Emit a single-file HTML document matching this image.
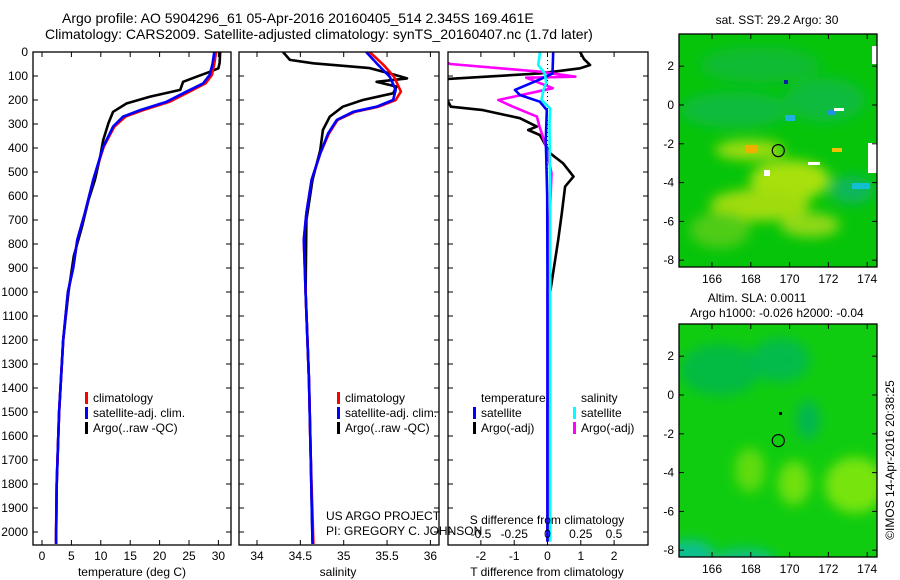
<!DOCTYPE html>
<html><head><meta charset="utf-8">
<style>
html,body{margin:0;padding:0;background:#fff;}
svg{display:block;font-family:"Liberation Sans",sans-serif;}
text{fill:#000;}
</style></head>
<body>
<svg id="fig" width="900" height="580" viewBox="0 0 900 580" xmlns="http://www.w3.org/2000/svg">
<defs>
 <filter id="blur6" x="-50%" y="-50%" width="200%" height="200%"><feGaussianBlur stdDeviation="6"/></filter>
 <clipPath id="c1"><rect x="33" y="52" width="198" height="493"/></clipPath>
 <clipPath id="c2"><rect x="239" y="52" width="200" height="493"/></clipPath>
 <clipPath id="c3"><rect x="448" y="52" width="200" height="493"/></clipPath>
 <clipPath id="cm1"><rect x="679" y="34" width="198" height="233"/></clipPath>
 <clipPath id="cm2"><rect x="679" y="324" width="198" height="233"/></clipPath>
</defs>
<text x="62" y="23" font-size="14">Argo profile: AO 5904296_61 05-Apr-2016 20160405_514 2.345S 169.461E</text>
<text x="45" y="39" font-size="14">Climatology: CARS2009. Satellite-adjusted climatology: synTS_20160407.nc (1.7d later)</text>

<!-- maps -->
<g clip-path="url(#cm1)">
 <rect x="679" y="34" width="198" height="233" fill="#06c40a"/>
 <g filter="url(#blur6)">
  <ellipse cx="760" cy="65" rx="60" ry="18" fill="#10b550" opacity="0.6"/>
  <ellipse cx="735" cy="110" rx="55" ry="18" fill="#0cb560" opacity="0.6"/>
  <ellipse cx="825" cy="100" rx="40" ry="22" fill="#10b560" opacity="0.6"/>
  <ellipse cx="852" cy="190" rx="22" ry="14" fill="#10b080" opacity="0.7"/>
  <ellipse cx="750" cy="150" rx="35" ry="10" fill="#a0dc10"/>
  <ellipse cx="790" cy="180" rx="40" ry="20" fill="#a8e010"/>
  <ellipse cx="760" cy="205" rx="50" ry="16" fill="#a0dc10"/>
  <ellipse cx="810" cy="225" rx="30" ry="12" fill="#90d818"/>
  <ellipse cx="720" cy="230" rx="30" ry="18" fill="#50cc18"/>
 </g>
 <rect x="745" y="145" width="12" height="8" fill="#f0b000"/>
 <rect x="832" y="148" width="10" height="4" fill="#f0c000"/>
 <rect x="785" y="115" width="10" height="6" fill="#20b0e0"/>
 <rect x="827" y="110" width="8" height="5" fill="#2090e0"/>
 <rect x="852" y="183" width="18" height="6" fill="#10c0d0"/>
 <rect x="784" y="80" width="4" height="4" fill="#0020a0"/>
 <rect x="872" y="46" width="5" height="18" fill="#fff"/>
 <rect x="868" y="143" width="9" height="30" fill="#fff"/>
 <rect x="764" y="170" width="6" height="6" fill="#fff"/>
 <rect x="808" y="162" width="12" height="3" fill="#fff"/>
 <rect x="834" y="108" width="10" height="3" fill="#fff"/>
 <circle cx="778.3" cy="150.6" r="6" fill="none" stroke="#000" stroke-width="1.2"/>
</g>
<g clip-path="url(#cm2)">
 <rect x="679" y="324" width="198" height="233" fill="#10cc10"/>
 <g filter="url(#blur6)">
  <ellipse cx="720" cy="370" rx="40" ry="26" fill="#08b550" opacity="0.8"/>
  <ellipse cx="780" cy="360" rx="30" ry="22" fill="#08b858" opacity="0.8"/>
  <ellipse cx="808" cy="420" rx="12" ry="20" fill="#08b060" opacity="0.8"/>
  <ellipse cx="750" cy="470" rx="15" ry="22" fill="#60dc10"/>
  <ellipse cx="794" cy="483" rx="16" ry="22" fill="#70e010"/>
  <ellipse cx="855" cy="485" rx="30" ry="28" fill="#78e408"/>
  <ellipse cx="690" cy="555" rx="25" ry="15" fill="#10c090"/>
  <ellipse cx="745" cy="560" rx="30" ry="12" fill="#10c080"/>
 </g>
 <circle cx="778.3" cy="440.6" r="6" fill="none" stroke="#000" stroke-width="1.2"/>
 <rect x="779" y="412" width="3" height="3" fill="#000"/>
</g>
<text x="777" y="24" font-size="12" text-anchor="middle">sat. SST: 29.2 Argo: 30</text>
<text x="757" y="302" font-size="12" text-anchor="middle">Altim. SLA: 0.0011</text>
<text x="777" y="317" font-size="12" text-anchor="middle">Argo h1000: -0.026 h2000: -0.04</text>
<text transform="translate(894,460) rotate(-90)" font-size="12" text-anchor="middle">©IMOS 14-Apr-2016 20:38:25</text>

<text x="326" y="520" font-size="12">US ARGO PROJECT</text>
<text x="326" y="535" font-size="12">PI: GREGORY C. JOHNSON</text>

<g id="plots"></g>
</svg>
<script>
// ---- data ----
var tClimDepth = [0,50,96,131,165,207,242,269,311,395,533,671,783,900,1000,1200,1500,1800,2000,2050];
var tClimVal   = [29.6,29.3,28.9,27.8,25.1,21.7,17.2,14.2,12.3,10.5,8.7,7.3,6.0,5.3,4.4,3.6,2.9,2.5,2.4,2.4];
var tAdjDepth  = [0,50,96,131,165,207,242,269,311,395,533,671,783,900,1000,1200,1500,1800,2000,2050];
var tAdjVal    = [29.3,29.0,28.5,27.4,24.6,21.2,16.7,13.8,12.1,10.4,8.7,7.3,6.0,5.3,4.4,3.6,2.9,2.5,2.4,2.4];
var tArgoDepth = [0,46,68,82,103,124,158,186,214,249,297,367,436,533,617,728,850,1000,1200,1500,1800,2040];
var tArgoVal   = [30.3,30.2,30.0,28.6,26.3,24.0,23.5,18.4,14.4,12.1,11.3,10.4,9.9,9.0,7.9,6.8,5.4,4.5,3.6,2.9,2.5,2.4];

var sClimDepth = [0,54,103,165,200,228,249,283,339,422,533,671,783,1000,1370,1700,2050];
var sClimVal   = [35.30,35.46,35.58,35.66,35.60,35.40,35.13,34.93,34.83,34.73,34.63,34.57,34.54,34.56,34.60,34.62,34.65];
var sAdjDepth  = [0,47,103,158,200,228,249,283,339,422,533,671,783,1000,1370,1700,2050];
var sAdjVal    = [35.26,35.38,35.53,35.60,35.57,35.38,35.11,34.92,34.82,34.73,34.63,34.57,34.54,34.56,34.60,34.62,34.64];
var sArgoDepth = [0,33,47,67,89,110,124,144,172,200,228,269,325,408,533,700,1000,1370,1700,2040];
var sArgoVal   = [34.30,34.38,34.65,35.30,35.53,35.73,35.38,35.61,35.57,35.22,34.99,34.84,34.76,34.73,34.64,34.57,34.56,34.60,34.62,34.64];

var dTArgoDepth = [0,30,54,68,89,114,150,228,242,276,311,325,346,422,464,519,561,672,783,1000,1500,2040];
var dTArgoVal   = [0.98,1.1,1.28,0.98,-0.23,-3.2,-3.2,-2.9,-1.94,-0.83,-0.32,-0.58,-0.23,0.08,0.47,0.78,0.53,0.43,0.32,0.08,0.0,0.0];
var dSArgoDepth = [0,40,50,82,103,107,151,200,228,269,311,395,505,644,1000,2040];
var dSArgoVal   = [-0.8,-0.78,-0.73,-0.056,0.21,-0.16,0.04,-0.37,-0.26,-0.08,-0.06,-0.01,0.03,0.02,0.0,0.0];
var dTSatDepth  = [0,89,114,158,179,207,242,367,600,1000,2040];
var dTSatVal    = [0.17,0.15,-0.23,-0.98,-0.83,-0.23,-0.02,-0.05,-0.01,0.0,0.0];
var dSSatDepth  = [0,54,89,130,158,200,235,300,600,1000,2040];
var dSSatVal    = [-0.056,-0.07,-0.02,-0.01,-0.03,-0.045,0.02,0.015,0.02,0.02,0.02];

var depthTicks = [0,100,200,300,400,500,600,700,800,900,1000,1100,1200,1300,1400,1500,1600,1700,1800,1900,2000];
var tTicks = [0,5,10,15,20,25,30];
var sTicks = [34,34.5,35,35.5,36];
var sTickLabels = ["34","34.5","35","35.5","36"];
var dTTicks = [-2,-1,0,1,2];
var dSTicks = [-0.5,-0.25,0,0.25,0.5];
var dSTickLabels = ["-0.5","-0.25","0","0.25","0.5"];
var lonTicks = [166,168,170,172,174];
var latTicks = [2,0,-2,-4,-6,-8];

// ---- scales ----
function yD(d){ return 52 + d*0.24; }
function xT(t){ return 42 + t*5.88; }
function xS(s){ return 257 + (s-34)*86.7; }
function xDT(t){ return 547.5 + t*33.3; }
function xDS(s){ return 547.5 + s*133; }
function xLon(l){ return 712 + (l-166)*19.4; }
function yLat1(l){ return 105 - l*19.4; }
function yLat2(l){ return 395 - l*19.4; }

var NS="http://www.w3.org/2000/svg";
var root=document.getElementById('plots');
function mk(tag,attrs,parent){ var e=document.createElementNS(NS,tag); for(var k in attrs) e.setAttribute(k,attrs[k]); (parent||root).appendChild(e); return e; }
function txt(x,y,s,size,anchor,parent){ var e=mk('text',{x:x,y:y,'font-size':size,'text-anchor':anchor||'start'},parent); e.textContent=s; return e; }

function series(depths, vals, xf, color, w, clip, name){
  var pts=[]; for(var i=0;i<depths.length;i++) pts.push(xf(vals[i]).toFixed(1)+','+yD(depths[i]).toFixed(1));
  var p=mk('polyline',{points:pts.join(' '),fill:'none',stroke:color,'stroke-width':w,'clip-path':'url(#'+clip+')','stroke-linejoin':'round'});
  
  
}
function frame(x,y,w,h,name){
  var r=mk('rect',{x:x,y:y,width:w,height:h,fill:'none',stroke:'#000','stroke-width':1.3});
  
  
}
function xticks(vals,xf,y0,y1){ vals.forEach(function(v){ var x=xf(v);
  mk('line',{x1:x,y1:y0,x2:x,y2:y0+5,stroke:'#000'}); mk('line',{x1:x,y1:y1,x2:x,y2:y1-5,stroke:'#000'}); }); }
function yticks(vals,yf,x0,x1){ vals.forEach(function(v){ var y=yf(v);
  mk('line',{x1:x0,y1:y,x2:x0+5,y2:y,stroke:'#000'}); mk('line',{x1:x1,y1:y,x2:x1-5,y2:y,stroke:'#000'}); }); }

// Panel 1 temperature
series(tArgoDepth,tArgoVal,xT,'#000',2.6,'c1','temp-argo-line');
series(tClimDepth,tClimVal,xT,'#f00',2.6,'c1','temp-climatology-line');
series(tAdjDepth,tAdjVal,xT,'#00f',2.6,'c1','temp-satellite-adj-line');
frame(33,52,198,493,'temperature-plot-frame');
xticks(tTicks,xT,52,545); yticks(depthTicks,yD,33,231);
tTicks.forEach(function(v){ var e=txt(xT(v),560,String(v),12,'middle');
  
   });
depthTicks.forEach(function(v){ var e=txt(28,yD(v)+4,String(v),12,'end');
  
   });
var xt1=txt(132,576,'temperature (deg C)',12,'middle');



// Panel 2 salinity
series(sArgoDepth,sArgoVal,xS,'#000',2.6,'c2','sal-argo-line');
series(sClimDepth,sClimVal,xS,'#f00',2.6,'c2','sal-climatology-line');
series(sAdjDepth,sAdjVal,xS,'#00f',2.6,'c2','sal-satellite-adj-line');
frame(239,52,200,493,'salinity-plot-frame');
xticks(sTicks,xS,52,545); yticks(depthTicks,yD,239,439);
sTicks.forEach(function(v,i){ var e=txt(xS(v),560,sTickLabels[i],12,'middle');
  
   });
var xt2=txt(338,576,'salinity',12,'middle');



// Panel 3 differences
mk('line',{x1:xDT(0),y1:52,x2:xDT(0),y2:545,stroke:'#000','stroke-dasharray':'1,3'});
series(dTArgoDepth,dTArgoVal,xDT,'#000',2.6,'c3','tdiff-argo-line');
series(dSArgoDepth,dSArgoVal,xDS,'#f0f',2.6,'c3','sdiff-argo-line');
series(dTSatDepth,dTSatVal,xDT,'#00f',2.6,'c3','tdiff-satellite-line');
series(dSSatDepth,dSSatVal,xDS,'#0ff',2.6,'c3','sdiff-satellite-line');
frame(448,52,200,493,'difference-plot-frame');
xticks(dTTicks,xDT,52,545); yticks(depthTicks,yD,448,648);
dTTicks.forEach(function(v){ var e=txt(xDT(v),560,String(v),12,'middle');
  
   });
dSTicks.forEach(function(v,i){ var e=txt(xDS(v),538,dSTickLabels[i],12,'middle');
  
   });
var xt3=txt(547,576,'T difference from climatology',12,'middle');


var xt4=txt(547,524,'S difference from climatology',12,'middle');



// Legends
function legItem(x,y,color,label,name){
  var g=mk('g',{});
  
  
  mk('rect',{x:x,y:y-10,width:3,height:12,fill:color},g);
  if(label) txt(x+8,y,label,12,'start',g);
}
legItem(85,402,'#f00','climatology','legend-climatology');
legItem(85,417,'#00f','satellite-adj. clim.','legend-satellite-adj');
legItem(85,432,'#000','Argo(..raw -QC)','legend-argo');
legItem(337,402,'#f00','climatology','legend-sal-climatology');
legItem(337,417,'#00f','satellite-adj. clim.','legend-sal-satellite-adj');
legItem(337,432,'#000','Argo(..raw -QC)','legend-sal-argo');
var lt=txt(481,402,'temperature',12,'start');  
var ls=txt(581,402,'salinity',12,'start');  
legItem(473,417,'#00f','satellite','legend-tdiff-satellite');
legItem(473,432,'#000','Argo(-adj)','legend-tdiff-argo');
legItem(573,417,'#0ff','satellite','legend-sdiff-satellite');
legItem(573,432,'#f0f','Argo(-adj)','legend-sdiff-argo');

// Map axes
frame(679,34,198,233,'sst-map-frame');
frame(679,324,198,233,'sla-map-frame');
[[yLat1,34,267,283],[yLat2,324,557,573]].forEach(function(m){
  xticks(lonTicks,xLon,m[1],m[2]); yticks(latTicks,m[0],679,877);
  lonTicks.forEach(function(v){ var e=txt(xLon(v),m[3],String(v),12,'middle');
    
     });
  latTicks.forEach(function(v){ var e=txt(674,m[0](v)+4,String(v),12,'end');
    
     });
});
</script>
</body></html>
